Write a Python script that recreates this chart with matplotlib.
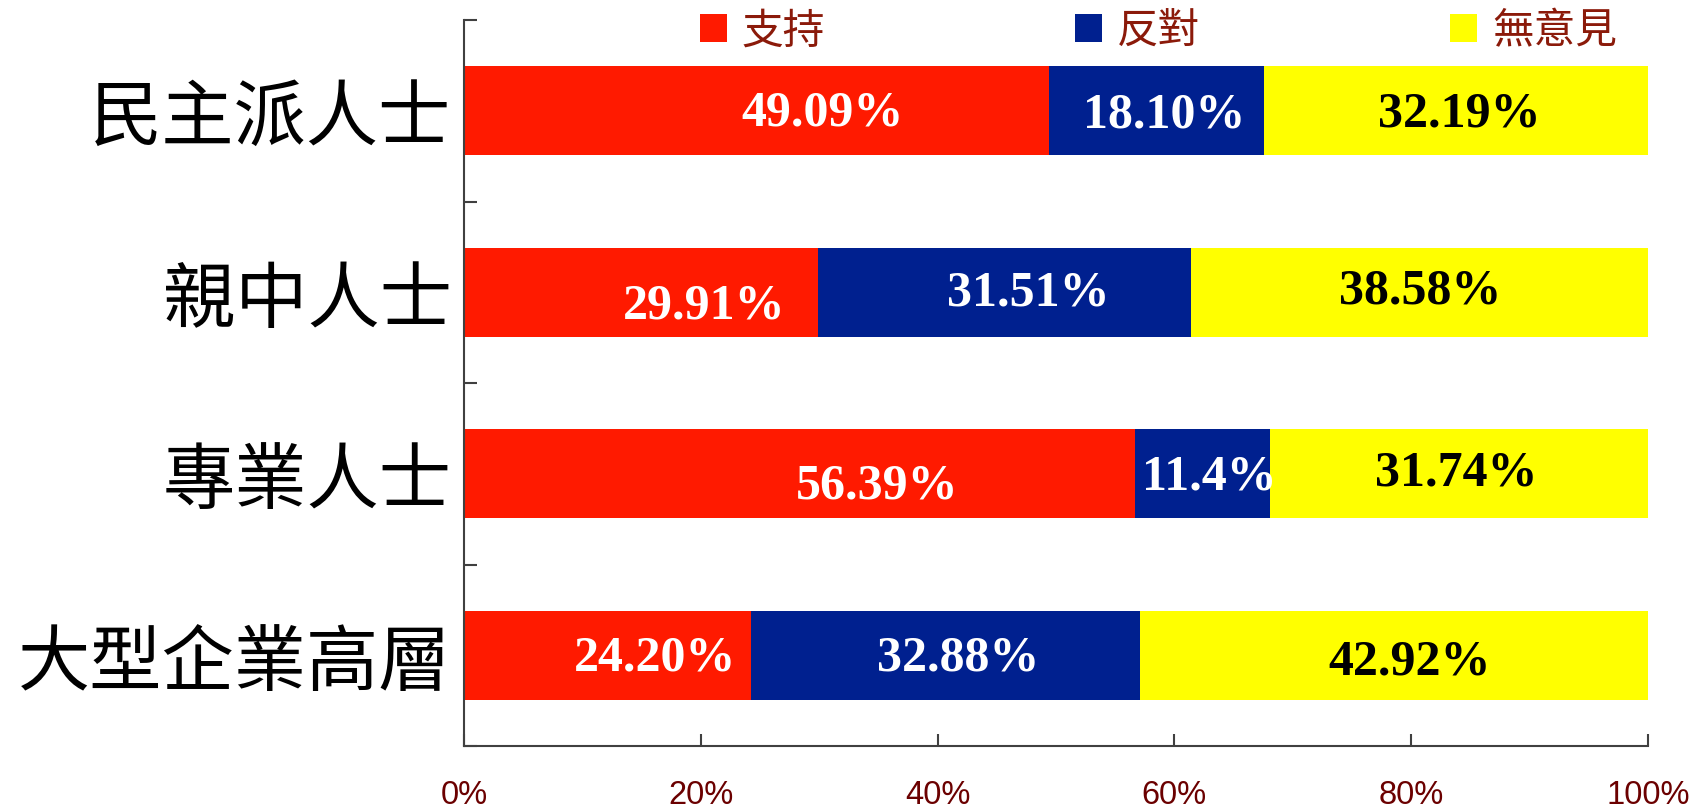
import matplotlib
matplotlib.use("Agg")
import matplotlib.pyplot as plt
from matplotlib.patches import Patch
import numpy as np

categories = ["民主派人士", "親中人士", "專業人士", "大型企業高層"]
series_names = ["支持", "反對", "無意見"]
support = [49.09, 29.91, 56.39, 24.20]
oppose = [18.10, 31.51, 11.4, 32.88]
no_opinion = [32.19, 38.58, 31.74, 42.92]
label_texts = [["49.09%", "18.10%", "32.19%"],
               ["29.91%", "31.51%", "38.58%"],
               ["56.39%", "11.4%", "31.74%"],
               ["24.20%", "32.88%", "42.92%"]]
x_ticks = [0, 20, 40, 60, 80, 100]
x_ticklabels = ["0%", "20%", "40%", "60%", "80%", "100%"]

# styling
colors = ["#FF1A00", "#00208F", "#FFFF00"]
text_colors = ["white", "white", "black"]
# label nudges in pixels (dx, dy; negative dy = lower) per row / series
nudges = [[(66, -2), (8, -4), (3, -3)],
          [(63, -13), (24, 0), (1, 2)],
          [(78, -12), (7, -3), (-3, 1)],
          [(48, -2), (13, -2), (16, -6)]]

W, H = 1695, 812
fig = plt.figure(figsize=(W / 100, H / 100), dpi=100)
ax = fig.add_axes([464 / W, 1 - 747 / H, 1184 / W, 726 / H])

data = np.array([support, oppose, no_opinion], dtype=float)
totals = data.sum(axis=0)
pct = data / totals * 100
y = np.arange(len(categories))
left = np.zeros(len(categories))
for s in range(3):
    ax.barh(y, pct[s], left=left, height=0.49, color=colors[s], edgecolor="none",
            label=series_names[s], zorder=2)
    for i in range(len(categories)):
        cx = left[i] + pct[s][i] / 2
        dx, dy = nudges[i][s]
        ax.annotate(label_texts[i][s], (cx, y[i]), xytext=(dx, dy),
                    textcoords="offset pixels", ha="center", va="center",
                    fontsize=36, fontweight="bold", family="Liberation Serif",
                    color=text_colors[s], zorder=3)
    left = left + pct[s]

ax.set_xlim(0, 100)
ax.set_ylim(len(categories) - 0.5, -0.5)
ax.set_yticks(y)
ax.set_yticklabels(categories, family=["Noto Sans CJK TC", "DejaVu Sans"], fontsize=52)
ax.tick_params(axis="y", which="major", length=0, pad=9)
ax.set_yticks(np.arange(-0.5, len(categories), 1), minor=True)
ax.tick_params(axis="y", which="minor", direction="in", length=9, width=1.5, color="#404040")
ax.set_xticks(x_ticks)
ax.set_xticklabels(x_ticklabels, family="Liberation Sans", fontsize=23.5, color="#6B0000")
ax.tick_params(axis="x", direction="in", length=9, width=1.5, color="#404040", pad=24)

for side in ["top", "right"]:
    ax.spines[side].set_visible(False)
for side in ["left", "bottom"]:
    ax.spines[side].set_color("#404040")
    ax.spines[side].set_linewidth(1.5)

handles = [Patch(facecolor=c, edgecolor="none") for c in colors]
leg = fig.legend(handles, series_names, loc="center", bbox_to_anchor=(1158.5 / W, 1 - 32 / H),
                 ncol=3, frameon=False, prop={"family": ["Noto Sans CJK TC", "DejaVu Sans"], "size": 30},
                 handlelength=0.65, handleheight=0.65, handletextpad=0.36, columnspacing=6.0,
                 borderpad=0, borderaxespad=0)
for t in leg.get_texts():
    t.set_color("#8B1A0A")

fig.savefig("out.png", dpi=100)
